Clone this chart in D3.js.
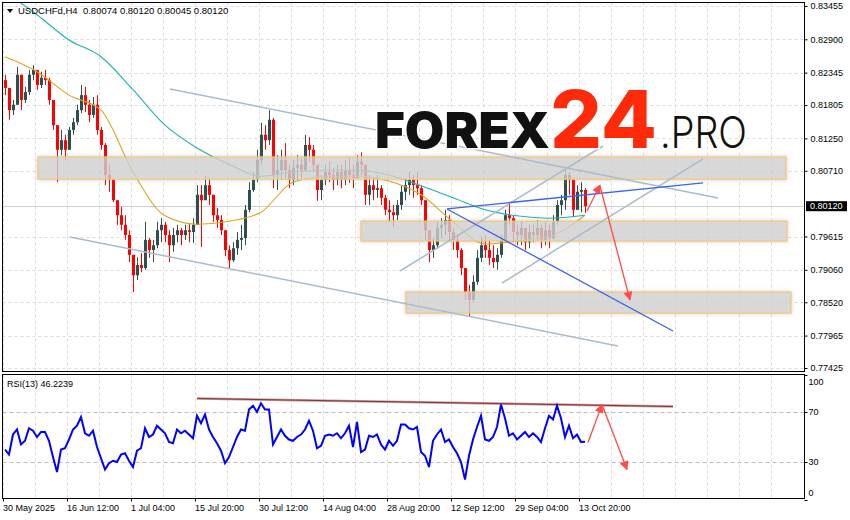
<!DOCTYPE html>
<html><head><meta charset="utf-8">
<script src="https://cdn.jsdelivr.net/npm/d3@7"></script>
<style>body{margin:0;background:#fff}svg{display:block;font-family:'Liberation Sans',Arial,sans-serif}</style>
</head><body><svg id="c" width="850" height="520"></svg>
<script>
// ---------- data ----------
const symbolTitle = "USDCHFd,H4";
const lastOHLC = ["0.80074", "0.80120", "0.80045", "0.80120"];
const rsiTitle = "RSI(13) 46.2239";
const lastPrice = 0.80120;
const firstOpen = 0.8222;
const closes = [
0.8209,0.8172,0.8181,0.8231,0.8189,0.8202,0.8231,0.8239,0.8214,0.8226,
0.8222,0.8189,0.8147,0.8106,0.8122,0.8106,0.8139,0.8152,0.8172,0.8197,
0.8181,0.8164,0.8181,0.8139,0.8114,0.8064,0.8056,0.8022,0.7997,0.7981,
0.7964,0.7931,0.7897,0.7914,0.7909,0.7956,0.7939,0.7947,0.7972,0.7981,
0.7964,0.7947,0.7964,0.7972,0.7964,0.7972,0.7969,0.7981,0.8031,0.8022,
0.8047,0.8031,0.7997,0.7989,0.7972,0.7939,0.7922,0.7942,0.7956,0.7959,
0.8006,0.8039,0.8056,0.8089,0.8131,0.8122,0.8156,0.8064,0.8072,0.8089,
0.8072,0.8056,0.8076,0.8081,0.8072,0.8114,0.8106,0.8081,0.8039,0.8056,
0.8069,0.8064,0.8056,0.8069,0.8056,0.8072,0.8064,0.8059,0.8086,0.8081,
0.8031,0.8047,0.8039,0.8042,0.8026,0.8006,0.8002,0.7997,0.8014,0.8036,
0.8047,0.8056,0.8047,0.8042,0.8022,0.7972,0.7939,0.7947,0.7976,0.7981,
0.7989,0.7969,0.7956,0.7939,0.7909,0.7869,0.7856,0.7886,0.7926,0.7947,
0.7939,0.7926,0.7919,0.7931,0.7956,0.7997,0.7992,0.7969,0.7964,0.7976,
0.7952,0.7969,0.7964,0.7976,0.7956,0.7972,0.7959,0.7986,0.8014,0.8022,
0.8064,0.8056,0.8006,0.8036,0.8039,0.8012];
const highs = [
0.8231,0.8209,0.8189,0.8244,0.8226,0.8211,0.8239,0.8247,0.8239,0.8236,
0.8239,0.8226,0.8189,0.8147,0.8139,0.8131,0.8144,0.8159,0.8181,0.8214,
0.8211,0.8189,0.8194,0.8197,0.8144,0.8117,0.8081,0.8059,0.8022,0.8011,
0.7997,0.7972,0.7931,0.7927,0.7934,0.7986,0.7959,0.7956,0.7986,0.7992,
0.7986,0.7972,0.7976,0.7981,0.7976,0.7981,0.7982,0.7992,0.8047,0.8047,
0.8062,0.8059,0.8031,0.8009,0.7997,0.7972,0.7947,0.7952,0.7969,0.7981,
0.8014,0.8052,0.8069,0.8106,0.8151,0.8147,0.8172,0.8159,0.8097,0.8106,
0.8117,0.8081,0.8089,0.8097,0.8092,0.8131,0.8127,0.8114,0.8081,0.8064,
0.8081,0.8086,0.8076,0.8081,0.8081,0.8089,0.8092,0.8081,0.8097,0.8102,
0.8076,0.8064,0.8059,0.8064,0.8047,0.8031,0.8022,0.8014,0.8022,0.8047,
0.8059,0.8069,0.8064,0.8069,0.8047,0.8014,0.7964,0.7959,0.7986,0.7992,
0.8006,0.7997,0.7976,0.7964,0.7942,0.7906,0.7881,0.7897,0.7939,0.7962,
0.7964,0.7956,0.7947,0.7942,0.7964,0.8006,0.8017,0.7997,0.7981,0.7986,
0.7976,0.7981,0.7981,0.7989,0.7981,0.7986,0.7981,0.7997,0.8022,0.8031,
0.8074,0.8069,0.8059,0.8047,0.8052,0.8042];
const lows = [
0.8197,0.8156,0.8164,0.8181,0.8172,0.8184,0.8197,0.8222,0.8206,0.8209,
0.8214,0.8181,0.8139,0.8052,0.8097,0.8089,0.8106,0.8131,0.8147,0.8167,
0.8169,0.8152,0.8159,0.8131,0.8106,0.8047,0.8036,0.8019,0.7981,0.7972,
0.7956,0.7919,0.7869,0.7889,0.7902,0.7906,0.7926,0.7919,0.7942,0.7952,
0.7952,0.7919,0.7936,0.7952,0.7947,0.7956,0.7952,0.7951,0.7981,0.7944,
0.8022,0.8014,0.7986,0.7976,0.7964,0.7929,0.7909,0.7919,0.7931,0.7939,
0.7947,0.8002,0.8036,0.8052,0.8081,0.8106,0.8114,0.8042,0.8039,0.8056,
0.8059,0.8042,0.8047,0.8056,0.8059,0.8069,0.8086,0.8069,0.8021,0.8022,
0.8047,0.8052,0.8039,0.8047,0.8042,0.8047,0.8051,0.8042,0.8064,0.8064,
0.8014,0.8014,0.8022,0.8026,0.8014,0.7997,0.7986,0.7977,0.7989,0.8006,
0.8022,0.8031,0.8026,0.8031,0.8014,0.7956,0.7919,0.7926,0.7942,0.7959,
0.7964,0.7956,0.7939,0.7926,0.7897,0.7856,0.7828,0.7852,0.7881,0.7919,
0.7926,0.7914,0.7909,0.7906,0.7926,0.7956,0.7981,0.7952,0.7947,0.7947,
0.7939,0.7942,0.7952,0.7956,0.7942,0.7947,0.7942,0.7956,0.7981,0.7997,
0.8006,0.8031,0.7994,0.8006,0.8002,0.8001];
const rsiValues = [
40,36,52,56,44,47,57,55,50,54,
54,47,34,22,40,41,48,56,59,66,
53,51,55,42,33,24,29,31,30,36,
37,31,26,39,41,57,50,52,59,56,
53,46,45,56,53,55,52,49,67,61,
68,56,50,45,39,29,34,42,50,56,
55,72,75,70,77,72,72,44,50,56,
51,48,47,50,52,56,63,55,41,43,
51,52,51,53,49,53,59,42,62,38,
40,51,50,52,44,40,47,43,47,60,
60,57,56,58,38,35,26,47,52,56,
46,48,42,37,30,16,35,48,58,67,
48,47,50,58,76,65,51,53,48,51,
54,50,53,50,46,57,67,64,75,65,
50,59,49,52,46,46.2239];
const maIndex = [0,8,16,24,32,40,48,56,64,72,80,88,96,104,112,120,128,136,144,145];
const maSlow = [0.8369,0.8331,0.8289,0.8261,0.8206,0.8147,0.8109,0.8082,0.8062,0.8069,0.8072,0.8072,0.8064,0.8046,0.8026,0.8006,0.7996,0.7992,0.7996,0.7997];
const maFast = [0.8261,0.8236,0.8197,0.8172,0.8069,0.7996,0.7982,0.7987,0.8002,0.8052,0.8061,0.8062,0.8054,0.8031,0.7986,0.7949,0.7954,0.7961,0.7992,0.7997];
const priceTicks = [0.83455,0.82900,0.82345,0.81805,0.81250,0.80710,0.79615,0.79060,0.78520,0.77965,0.77425];
const rsiTicks = [100,70,30,0];
const rsiLevels = [70,30];
const timeLabels = ["30 May 2025","16 Jun 12:00","1 Jul 04:00","15 Jul 20:00","30 Jul 12:00","14 Aug 04:00","28 Aug 20:00","12 Sep 12:00","29 Sep 04:00","13 Oct 20:00"];
const timeLabelIndex = [-0.5,15.5,31.5,47.5,63.5,79.5,95.5,111.5,127.5,143.5];
// support/resistance zones (bar index start/end, price high/low)
const zoneStart = [8.25, 89, 100.25];
const zoneEnd = [195.25, 195.5, 196.5];
const zoneHigh = [0.8094, 0.7987, 0.7869];
const zoneLow = [0.8057, 0.7954, 0.7834];
// trend lines [index1, price1, index2, price2]
const channelLines = [[41.25,0.82073,178.25,0.80257],[16.25,0.79607,153.25,0.77792],[98.75,0.79041,149.5,0.81123],[124.25,0.78841,174.5,0.80907]];
const blueLines = [[110.5,0.80074,174.5,0.80507],[110.5,0.80074,167,0.78042]];
const priceArrows = [[145.5,0.8004,148.75,0.80474],[148.75,0.80457,156.25,0.78558]];
const rsiTrend = [48,80.8,167,74.4];
const rsiArrows = [[145.75,45.6,149.25,76],[149.25,76,155.5,24]];

// ---------- scales ----------
const svg = d3.select("#c");
const x = d3.scaleLinear().domain([0, 145]).range([5, 585]);
const y = d3.scaleLinear().domain([0.77425, 0.83455]).range([368, 6]);
const ry = d3.scaleLinear().domain([0, 100]).range([499.5, 374.5]);
const L = 2.5, R = 804.5, MT = 2.5, MB = 371.5, RT = 374.5, RB = 498.5;

const defs = svg.append("defs");
defs.append("clipPath").attr("id","mainClip").append("rect").attr("x",L).attr("y",MT).attr("width",R-L).attr("height",MB-MT);
defs.append("clipPath").attr("id","rsiClip").append("rect").attr("x",L).attr("y",RT).attr("width",R-L).attr("height",RB-RT);
const f = defs.append("filter").attr("id","zs").attr("x","-5%").attr("y","-50%").attr("width","110%").attr("height","200%");
f.append("feDropShadow").attr("dx",0).attr("dy",0).attr("stdDeviation",2).attr("flood-color","#888").attr("flood-opacity",0.45);
defs.append("marker").attr("id","arr").attr("viewBox","0 0 10 10").attr("refX",9).attr("refY",5)
  .attr("markerWidth",11).attr("markerHeight",9).attr("markerUnits","userSpaceOnUse").attr("orient","auto")
  .append("path").attr("d","M0,0L10,5L0,10z").attr("fill","#ff4a4a");

// ---------- grid ----------
const grid = svg.append("g").attr("stroke","#dcdcdc").attr("stroke-dasharray","3,3").attr("stroke-width",1);
const vIdx = d3.range(0, 26).map(k => 8*k - 0.5).filter(v => x(v) < R - 2);
vIdx.forEach(v => {
  const xx = Math.round(x(v)) + 0.5;
  grid.append("line").attr("x1",xx).attr("x2",xx).attr("y1",MT).attr("y2",MB);
  grid.append("line").attr("x1",xx).attr("x2",xx).attr("y1",RT).attr("y2",RB);
});
priceTicks.forEach(t => {
  const yy = Math.round(y(t)) + 0.5;
  grid.append("line").attr("x1",L).attr("x2",R).attr("y1",yy).attr("y2",yy);
});
rsiLevels.forEach(t => {
  const yy = Math.round(ry(t)) + 0.5;
  svg.append("line").attr("x1",L).attr("x2",R).attr("y1",yy).attr("y2",yy)
    .attr("stroke","#bdbdbd").attr("stroke-dasharray","4,3");
});
// bid line
svg.append("line").attr("x1",L).attr("x2",R).attr("y1",Math.round(y(lastPrice))+0.5).attr("y2",Math.round(y(lastPrice))+0.5)
  .attr("stroke","#d0d0d0");

// ---------- main plot ----------
const main = svg.append("g").attr("clip-path","url(#mainClip)");
const bars = closes.map((c,i) => ({i, o: i ? closes[i-1] : firstOpen, c, h: highs[i], l: lows[i]}));
const up = "#2f4f4f", dn = "#ff0000";
main.append("g").selectAll("line").data(bars).join("line")
  .attr("x1", d => Math.round(x(d.i)) + 0.5).attr("x2", d => Math.round(x(d.i)) + 0.5)
  .attr("y1", d => y(Math.max(d.h, d.o, d.c))).attr("y2", d => y(Math.min(d.l, d.o, d.c)))
  .attr("stroke", d => d.c >= d.o ? up : dn).attr("stroke-width",1);
main.append("g").selectAll("rect").data(bars).join("rect")
  .attr("x", d => Math.round(x(d.i)) - 1).attr("width", 3)
  .attr("y", d => y(Math.max(d.o, d.c))).attr("height", d => Math.max(1, Math.abs(y(d.o) - y(d.c))))
  .attr("fill", d => d.c >= d.o ? up : dn);

const maLine = d3.line().x(d => x(d[0])).y(d => y(d[1])).curve(d3.curveMonotoneX);
main.append("path").attr("d", maLine(maIndex.map((v,k) => [v, maSlow[k]]))).attr("fill","none").attr("stroke","#20b2aa").attr("stroke-width",1.1);
main.append("path").attr("d", maLine(maIndex.map((v,k) => [v, maFast[k]]))).attr("fill","none").attr("stroke","#daa520").attr("stroke-width",1.1);

// zones
zoneStart.forEach((s,k) => {
  main.append("rect").attr("x", x(s)).attr("width", x(zoneEnd[k]) - x(s))
    .attr("y", y(zoneHigh[k])).attr("height", y(zoneLow[k]) - y(zoneHigh[k]))
    .attr("fill","#d6d6d6").attr("fill-opacity",0.72).attr("stroke","#f3c674").attr("stroke-width",1.2)
    .attr("filter","url(#zs)");
});

// lines
channelLines.forEach(l => main.append("line").attr("x1",x(l[0])).attr("y1",y(l[1])).attr("x2",x(l[2])).attr("y2",y(l[3]))
  .attr("stroke","#a9bbcb").attr("stroke-width",1.5));
blueLines.forEach(l => main.append("line").attr("x1",x(l[0])).attr("y1",y(l[1])).attr("x2",x(l[2])).attr("y2",y(l[3]))
  .attr("stroke","#3a62ee").attr("stroke-width",1.3));
priceArrows.forEach(l => main.append("line").attr("x1",x(l[0])).attr("y1",y(l[1])).attr("x2",x(l[2])).attr("y2",y(l[3]))
  .attr("stroke","#ff4a4a").attr("stroke-width",1.3).attr("marker-end","url(#arr)"));

// logo
const logo = main.append("g").attr("font-family","Inter, 'Open Sans', sans-serif")
  .attr("paint-order","stroke").attr("stroke","#fff").attr("stroke-width",3).attr("stroke-linejoin","round");
logo.append("text").attr("x",375).attr("y",148).attr("font-size",50).attr("font-weight",900).attr("fill","#111")
  .attr("textLength",175).attr("lengthAdjust","spacingAndGlyphs").text("FOREX");
logo.append("text").attr("x",550).attr("y",148).attr("font-size",80).attr("font-weight",800).attr("fill","#ff2a0a")
  .attr("textLength",107).attr("lengthAdjust","spacingAndGlyphs").text("24");
logo.append("text").attr("x",660).attr("y",148).attr("font-size",43).attr("font-weight",300).attr("fill","#111")
  .attr("textLength",87).attr("lengthAdjust","spacingAndGlyphs").text(".PRO");

// ---------- RSI ----------
const rg = svg.append("g").attr("clip-path","url(#rsiClip)");
rg.append("line").attr("x1",x(rsiTrend[0])).attr("y1",ry(rsiTrend[1])).attr("x2",x(rsiTrend[2])).attr("y2",ry(rsiTrend[3]))
  .attr("stroke","#c49a9a").attr("stroke-width",2.4);
rg.append("line").attr("x1",x(rsiTrend[0])).attr("y1",ry(rsiTrend[1])).attr("x2",x(rsiTrend[2])).attr("y2",ry(rsiTrend[3]))
  .attr("stroke","#8b3030").attr("stroke-width",1);
rg.append("path").attr("d", d3.line().x((d,i) => x(i)).y(d => ry(d))(rsiValues))
  .attr("fill","none").attr("stroke","#0000ff").attr("stroke-width",2);
rsiArrows.forEach(l => rg.append("line").attr("x1",x(l[0])).attr("y1",ry(l[1])).attr("x2",x(l[2])).attr("y2",ry(l[3]))
  .attr("stroke","#ff4a4a").attr("stroke-width",1.3).attr("marker-end","url(#arr)"));

// ---------- frames & axes ----------
svg.append("rect").attr("x",L).attr("y",MT).attr("width",R-L).attr("height",MB-MT).attr("fill","none").attr("stroke","#000");
svg.append("rect").attr("x",L).attr("y",RT).attr("width",R-L).attr("height",RB-RT).attr("fill","none").attr("stroke","#000");

const ya = svg.append("g").attr("transform",`translate(${R},0)`)
  .call(d3.axisRight(y).tickValues(priceTicks).tickFormat(d3.format(".5f")).tickSize(3).tickSizeOuter(0));
ya.select(".domain").remove();
ya.selectAll("text").attr("font-size",9).attr("font-family","'Liberation Sans',Arial,sans-serif").attr("fill","#000");
ya.selectAll("line").attr("stroke","#000");

// price tag
svg.append("rect").attr("x",R+1.5).attr("y",y(lastPrice)-5).attr("width",41).attr("height",10).attr("fill","#000");
svg.append("text").attr("x",R+5.5).attr("y",y(lastPrice)).attr("dy","0.35em").attr("font-size",9).attr("fill","#fff").text(d3.format(".5f")(lastPrice));

// rsi axis
rsiTicks.forEach(t => {
  const yy = ry(t);
  svg.append("line").attr("x1",R).attr("x2",R+3).attr("y1",Math.round(yy)+0.5).attr("y2",Math.round(yy)+0.5).attr("stroke","#000");
  svg.append("text").attr("x",R+4).attr("y", t === 100 ? yy + 7 : t === 0 ? yy - 7 : yy).attr("dy","0.35em")
    .attr("font-size",9).attr("fill","#000").text(t);
});

// time axis
const xa = svg.append("g").attr("transform",`translate(0,${RB})`)
  .call(d3.axisBottom(x).tickValues(timeLabelIndex).tickFormat((d,i) => timeLabels[i]).tickSize(3).tickSizeOuter(0));
xa.select(".domain").remove();
xa.selectAll("text").attr("font-size",9).attr("font-family","'Liberation Sans',Arial,sans-serif").attr("fill","#000")
  .attr("text-anchor","start").attr("dx",-0.5);
xa.selectAll("line").attr("stroke","#000");

// titles
svg.append("path").attr("d","M7,9L13,9L10,13Z").attr("fill","#000");
svg.append("text").attr("x",18).attr("y",11).attr("dy","0.35em").attr("font-size",9.5).attr("fill","#000")
  .style("white-space","pre").text(symbolTitle + "  " + lastOHLC.join(" "));
svg.append("text").attr("x",7).attr("y",384).attr("dy","0.35em").attr("font-size",9).attr("fill","#000").text(rsiTitle);
</script></body></html>
